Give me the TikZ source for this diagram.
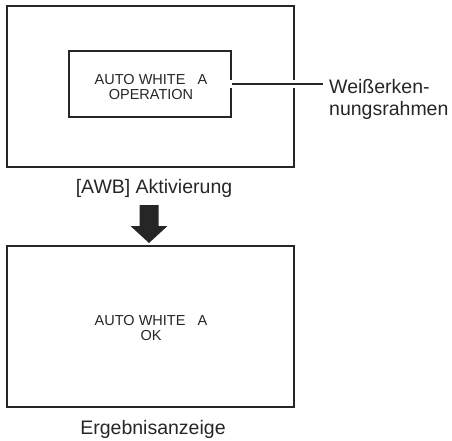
\documentclass[tikz,border=0pt]{standalone}
\usepackage{fontspec}
\setmainfont{Liberation Sans}
\begin{document}
\begin{tikzpicture}[x=1pt,y=-1pt,
  screen/.style={draw=black!85, line width=2pt, minimum width=287pt, minimum height=161pt, inner sep=0pt},
  frame/.style={draw=black!85, line width=2pt, minimum width=162pt, minimum height=66pt, inner sep=0pt},
  small/.style={font=\fontsize{14.5}{15}\selectfont, align=center, inner sep=0pt, text=black!85},
  big/.style={font=\fontsize{19.5}{22}\selectfont, inner sep=0pt, text=black!85},
  halo/.style={white, line width=8pt},
  leader/.style={black!85, line width=2pt}]
\useasboundingbox (0,0) rectangle (452,440);
% top screen
\node[screen] (top) at (150,86.5) {};
\node[frame] (wfr) at (150,84) {};
\node[small] (toptext) at (151,87) {AUTO WHITE\ \ \ A\\OPERATION};
\coordinate (lead) at (323,84);
\draw[halo] ([xshift=-2pt]wfr.east) -- (lead);
\draw[leader] (wfr.east) -- (lead);
\node[big, anchor=west, align=left] (wlabel) at (329,99) {Weißerken-\\nungsrahmen};
\node[big, anchor=base] (awb) at (154,193) {[AWB] Aktivierung};
% block arrow
\fill[black!85] (139.5,205) -- (158.5,205) -- (158.5,226) -- (167.5,226) -- (149,243) -- (130.5,226) -- (139.5,226) -- cycle;
% bottom screen
\node[screen] (bot) at (150.5,326.5) {};
\node[small] (bottext) at (151,328) {AUTO WHITE\ \ \ A\\OK};
\node[big, anchor=base] (res) at (153,434) {Ergebnisanzeige};
\end{tikzpicture}
\end{document}
